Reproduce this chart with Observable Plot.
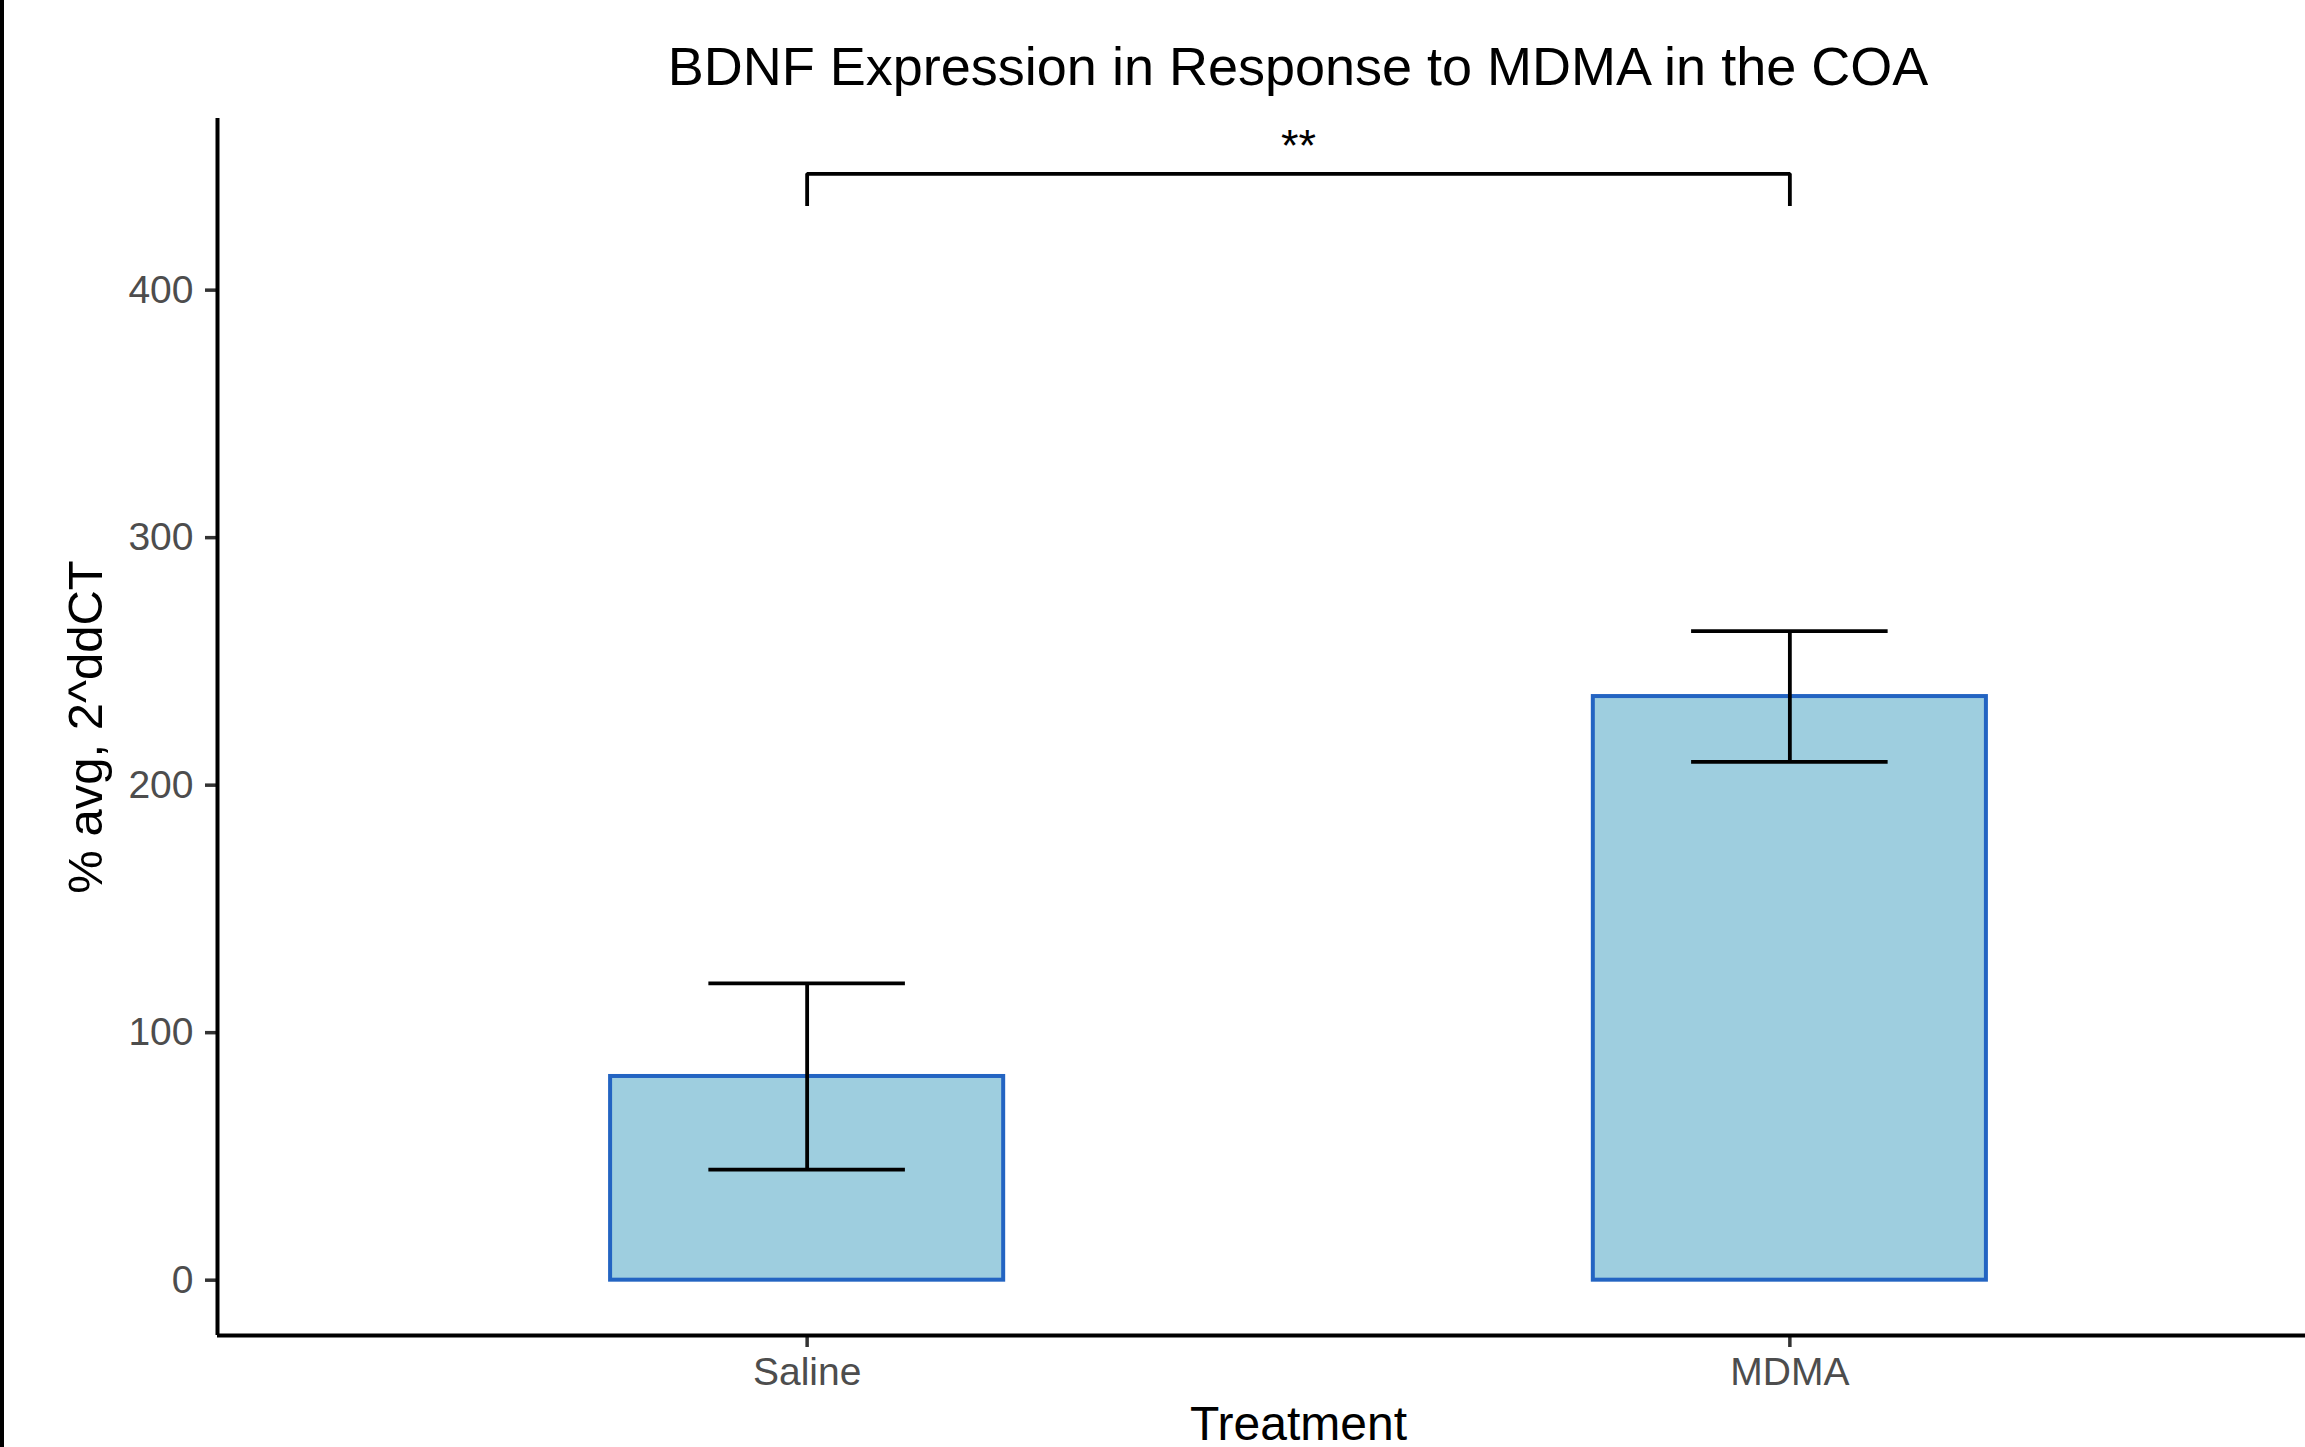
<!DOCTYPE html>
<html>
<head>
<meta charset="utf-8">
<script src="https://cdn.jsdelivr.net/npm/d3@7"></script>
<script src="https://cdn.jsdelivr.net/npm/@observablehq/plot@0.6"></script>
<style>
  html, body { margin: 0; padding: 0; background: #fff; overflow: hidden; }
  body { width: 2305px; height: 1447px; position: relative; font-family: "Liberation Sans", Arial, Helvetica, sans-serif; }
  #edge { position: absolute; left: 0; top: 0; width: 3.5px; height: 1447px; background: #000; z-index: 2; }
  #title { height: 118px; position: relative; }
  #title span { position: absolute; left: 1298px; top: 39px; transform: translateX(-50%); white-space: nowrap; font-size: 54px; line-height: 54px; color: #000; }
  #chart svg { display: block; }
</style>
</head>
<body>
<div id="edge"></div>
<div id="title"><span>BDNF Expression in Response to MDMA in the COA</span></div>
<div id="chart"></div>
<script>
// ---- data ----
const categories = ["Saline", "MDMA"];
const means = [82.3, 235.8];
const sems = [37.6, 26.4];
const yTicks = [0, 100, 200, 300, 400];
const bracketY = 447;
const bracketTip = 13;
const bracketLabel = "**";
const xTitle = "Treatment";
const yTitle = "% avg, 2^ddCT";

// ---- build table ----
const rows = categories.map((c, i) => ({
  cat: c, pos: i + 1, mean: means[i], lo: means[i] - sems[i], hi: means[i] + sems[i]
}));
const bracket = [
  {x: 1, y: bracketY - bracketTip},
  {x: 1, y: bracketY},
  {x: 2, y: bracketY},
  {x: 2, y: bracketY - bracketTip}
];

// ggplot-like expansion
const yMin = 0, yMax = bracketY;
const ext = (yMax - yMin) * 0.05;
const yDomain = [yMin - ext, yMax + ext];
const xDomain = [0.4, categories.length + 0.6];

const barHalf = 0.2, capHalf = 0.1;
const font = "Liberation Sans, Arial, Helvetica, sans-serif";

const plot = Plot.plot({
  width: 2305,
  height: 1329,
  marginTop: 0,
  marginBottom: 112,
  marginLeft: 217,
  marginRight: -74,
  style: {fontFamily: font, background: "transparent", overflow: "hidden"},
  x: {type: "linear", domain: xDomain},
  y: {domain: yDomain},
  marks: [
    Plot.rectY(rows, {x1: d => d.pos - barHalf, x2: d => d.pos + barHalf, y1: 0, y2: "mean",
      fill: "#9ECEDF", stroke: "#2364C2", strokeWidth: 4}),
    Plot.ruleX(rows, {x: "pos", y1: "lo", y2: "hi", stroke: "#000", strokeWidth: 3.8}),
    Plot.ruleY(rows, {y: "lo", x1: d => d.pos - capHalf, x2: d => d.pos + capHalf, stroke: "#000", strokeWidth: 3.8}),
    Plot.ruleY(rows, {y: "hi", x1: d => d.pos - capHalf, x2: d => d.pos + capHalf, stroke: "#000", strokeWidth: 3.8}),
    Plot.line(bracket, {x: "x", y: "y", stroke: "#000", strokeWidth: 3.8, strokeLinejoin: "miter", strokeLinecap: "butt"}),
    Plot.text([bracketLabel], {x: 1.5, y: bracketY, text: d => d, lineAnchor: "bottom", dy: -13,
      fontSize: 45, fill: "#000", fontFamily: font}),
    // axes
    Plot.axisY({ticks: yTicks, tickSize: 12, tickPadding: 12, fontSize: 39, stroke: "#333333",
      strokeWidth: 3.5, fill: "#4D4D4D", label: null, tickFormat: d => String(d)}),
    Plot.axisX({ticks: categories.map((c, i) => i + 1), tickSize: 12, tickPadding: 10, fontSize: 39,
      stroke: "#333333", strokeWidth: 3.5, fill: "#4D4D4D", label: null,
      tickFormat: d => categories[d - 1]}),
    Plot.ruleY([yDomain[0]], {x1: xDomain[0], x2: xDomain[1], stroke: "#000", strokeWidth: 4}),
    Plot.ruleX([xDomain[0]], {y1: yDomain[0], y2: yDomain[1], stroke: "#000", strokeWidth: 4}),
    // axis titles
    Plot.text([xTitle], {frameAnchor: "bottom", text: d => d, lineAnchor: "bottom", dy: 104,
      fontSize: 48, fill: "#000", fontFamily: font}),
    Plot.text([yTitle], {frameAnchor: "left", text: d => d, rotate: -90, textAnchor: "middle",
      lineAnchor: "bottom", dx: -116, fontSize: 49, fill: "#000", fontFamily: font})
  ]
});
document.getElementById("chart").appendChild(plot);
</script>
</body>
</html>
